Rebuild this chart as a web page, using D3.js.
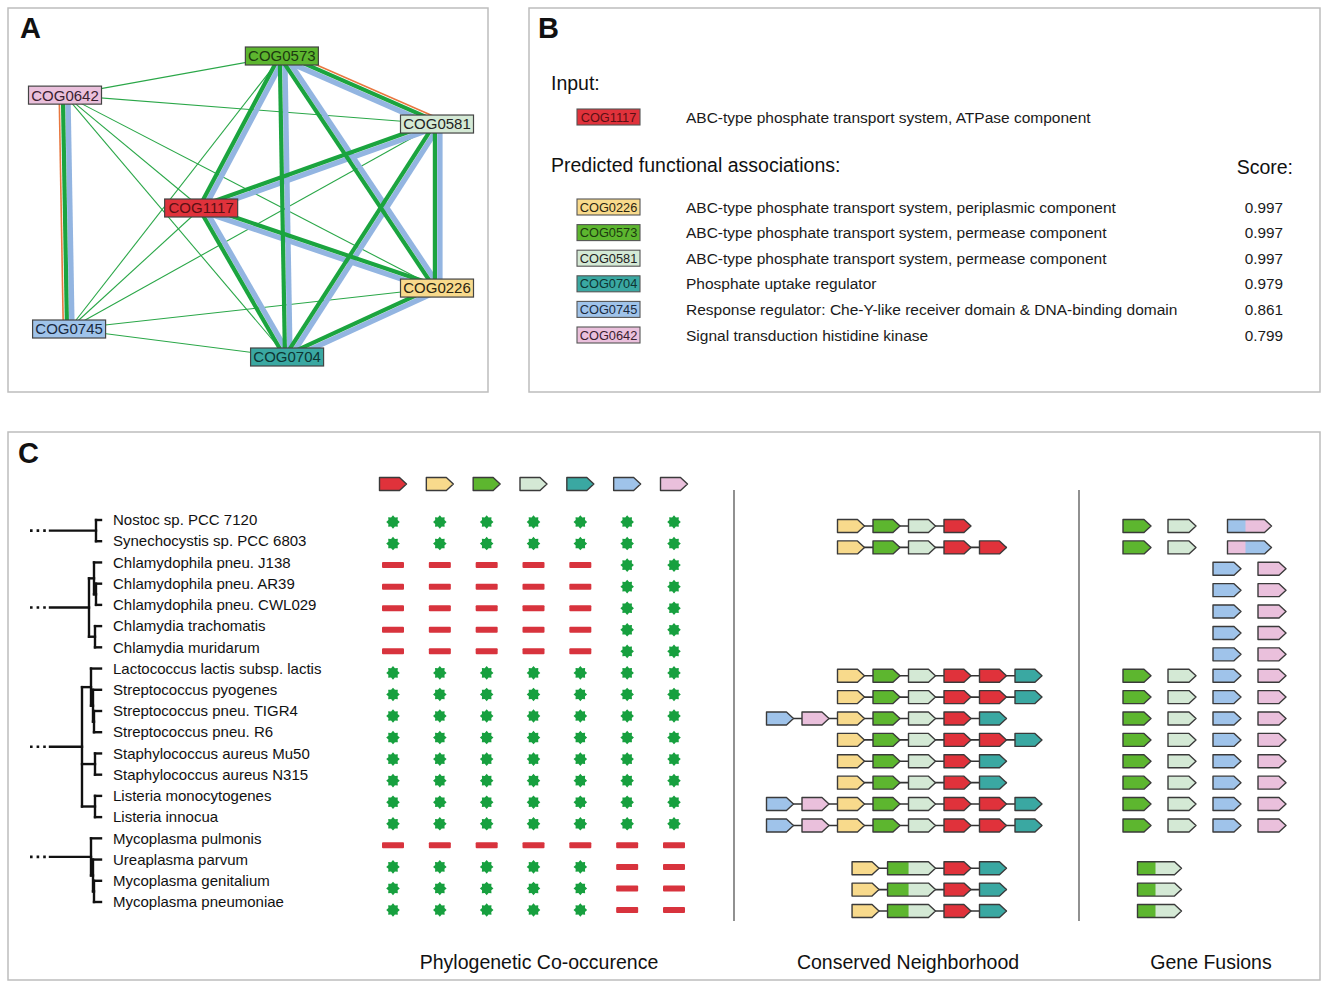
<!DOCTYPE html>
<html><head><meta charset="utf-8">
<script src="https://cdn.jsdelivr.net/npm/d3@7"></script>
<style>body{margin:0;background:#fff}</style>
</head><body>
<svg id="c" width="1321" height="981"></svg>
<script>
// ---------------- DATA ----------------
const cogs = ["COG1117","COG0226","COG0573","COG0581","COG0704","COG0745","COG0642"];
const cogCodes = ["R","Y","G","L","T","B","P"];
const cogColors = ["#e0323b","#f8da8c","#5db62f","#d4e9d5","#3aa8a2","#9fc3ea","#eac0dc"];
const cogTextColors = ["#5a1014","#2a2410","#1c3a10","#222","#0e3532","#1a2a40","#3a2030"];
const cogDesc = [
  "ABC-type phosphate transport system, ATPase component",
  "ABC-type phosphate transport system, periplasmic component",
  "ABC-type phosphate transport system, permease component",
  "ABC-type phosphate transport system, permease component",
  "Phosphate uptake regulator",
  "Response regulator: Che-Y-like receiver domain & DNA-binding domain",
  "Signal transduction histidine kinase"
];
const scores = [null, 0.997, 0.997, 0.997, 0.979, 0.861, 0.799];

// network layout (layout units 0..100)
const netNodes = ["COG0573","COG0642","COG0581","COG1117","COG0226","COG0745","COG0704"];
const netX = [58.3, 0, 100, 36.6, 100, 1.1, 59.7];
const netY = [0, 13, 22.6, 50.5, 77.1, 90.7, 100];
// edges: n = neighborhood (green), p = co-occurrence (blue), f = fusion (orange), w = weak neighborhood
const edges = [
  ["COG0642","COG0573","w"],["COG0642","COG0581","w"],["COG0642","COG1117","w"],["COG0642","COG0226","w"],["COG0642","COG0704","w"],
  ["COG0745","COG0573","w"],["COG0745","COG0581","w"],["COG0745","COG1117","w"],["COG0745","COG0226","w"],["COG0745","COG0704","w"],
  ["COG0573","COG0704","np"],["COG0573","COG0226","np"],["COG0581","COG0573","npf"],["COG0573","COG1117","np"],
  ["COG0581","COG1117","np"],["COG0226","COG1117","np"],["COG1117","COG0704","np"],["COG0581","COG0704","np"],
  ["COG0581","COG0226","np"],["COG0226","COG0704","np"],["COG0642","COG0745","npf"]
];

const species = ["Nostoc sp. PCC 7120","Synechocystis sp. PCC 6803","Chlamydophila pneu. J138","Chlamydophila pneu. AR39",
  "Chlamydophila pneu. CWL029","Chlamydia trachomatis","Chlamydia muridarum","Lactococcus lactis subsp. lactis",
  "Streptococcus pyogenes","Streptococcus pneu. TIGR4","Streptococcus pneu. R6","Staphylococcus aureus Mu50",
  "Staphylococcus aureus N315","Listeria monocytogenes","Listeria innocua","Mycoplasma pulmonis","Ureaplasma parvum",
  "Mycoplasma genitalium","Mycoplasma pneumoniae"];

// tree: leaves are species indices, internal nodes have height h
const treeGroups = [
  {h:5, c:[0,1]},
  {h:12, c:[{h:7, c:[2,{h:5, c:[3,4]}]}, {h:6, c:[5,6]}]},
  {h:19, c:[{h:10, c:[7,{h:8, c:[8,{h:7, c:[9,10]}]}]}, {h:6, c:[11,12]}, {h:6, c:[13,14]}]},
  {h:10, c:[15,{h:8, c:[16,{h:7, c:[17,18]}]}]}
];

// phylogenetic profiles: columns in cogs order
const presence = [
  "1111111","1111111",
  "0000011","0000011","0000011","0000011","0000011",
  "1111111","1111111","1111111","1111111","1111111","1111111","1111111","1111111",
  "0000000",
  "1111100","1111100","1111100"
];

// conserved neighborhood (two letters = fused gene)
const neighborhood = [
  ["Y","G","L","R"], ["Y","G","L","R","R"],
  [],[],[],[],[],
  ["Y","G","L","R","R","T"], ["Y","G","L","R","R","T"], ["B","P","Y","G","L","R","T"], ["Y","G","L","R","R","T"],
  ["Y","G","L","R","T"], ["Y","G","L","R","T"], ["B","P","Y","G","L","R","R","T"], ["B","P","Y","G","L","R","R","T"],
  [],
  ["Y","GL","R","T"], ["Y","GL","R","T"], ["Y","GL","R","T"]
];

// gene fusions
const fusions = [
  ["G","L","BP"], ["G","L","PB"],
  ["B","P"],["B","P"],["B","P"],["B","P"],["B","P"],
  ["G","L","B","P"],["G","L","B","P"],["G","L","B","P"],["G","L","B","P"],
  ["G","L","B","P"],["G","L","B","P"],["G","L","B","P"],["G","L","B","P"],
  [],
  ["GL"],["GL"],["GL"]
];
const fusionCols = ["G","L","B","P"];
const sectionTitles = ["Phylogenetic Co-occurence","Conserved Neighborhood","Gene Fusions"];

// ---------------- DRAWING ----------------
const F = "'Liberation Sans', Arial, Helvetica, sans-serif";
const svg = d3.select("#c");
const col = c => cogColors[cogCodes.indexOf(c)];
const cogIdx = c => cogs.indexOf(c);

// panel frames
[[8,8,480,384],[529,8,791,384],[8,432,1312,548]].forEach(p => {
  svg.append("rect").attr("x",p[0]).attr("y",p[1]).attr("width",p[2]).attr("height",p[3])
    .attr("fill","none").attr("stroke","#bdbdbd").attr("stroke-width",1.5);
});
[["A",20,38],["B",538,38],["C",18,463]].forEach(l => {
  svg.append("text").attr("x",l[1]).attr("y",l[2]).text(l[0])
    .attr("font-family",F).attr("font-weight","bold").attr("font-size",29).attr("fill","#111");
});

// ---- Panel A ----
const xA = d3.scaleLinear().domain([0,100]).range([65,437]);
const yA = d3.scaleLinear().domain([0,100]).range([56,357]);
const pos = c => { const i = netNodes.indexOf(c); return [xA(netX[i]), yA(netY[i])]; };
const gA = svg.append("g");
const layers = [
  {k:"w", off:0, w:1.1, c:"#2aa748"},
  {k:"p", off:-2.9, w:5.4, c:"#93b5e1"},
  {k:"n", off:2.1, w:4.2, c:"#1ba43f"},
  {k:"f", off:5.8, w:1.6, c:"#e8773f"}
];
layers.forEach(L => {
  edges.filter(e => e[2].includes(L.k)).forEach(e => {
    const [x1,y1] = pos(e[0]), [x2,y2] = pos(e[1]);
    const dx = x2-x1, dy = y2-y1, len = Math.hypot(dx,dy);
    const nx = -dy/len*L.off, ny = dx/len*L.off;
    gA.append("line").attr("x1",x1+nx).attr("y1",y1+ny).attr("x2",x2+nx).attr("y2",y2+ny)
      .attr("stroke",L.c).attr("stroke-width",L.w);
  });
});
netNodes.forEach(c => {
  const [x,y] = pos(c), i = cogIdx(c);
  gA.append("rect").attr("x",x-36.5).attr("y",y-9).attr("width",73).attr("height",18)
    .attr("fill",cogColors[i]).attr("stroke","#444").attr("stroke-width",1.2);
  gA.append("text").attr("x",x).attr("y",y).attr("dy","0.36em").attr("text-anchor","middle")
    .attr("font-family",F).attr("font-size",15).attr("fill",cogTextColors[i]).text(c);
});

// ---- Panel B ----
const gB = svg.append("g");
gB.append("text").attr("x",551).attr("y",90).text("Input:").attr("font-family",F).attr("font-size",19.5).attr("fill","#111");
gB.append("text").attr("x",551).attr("y",172).text("Predicted functional associations:").attr("font-family",F).attr("font-size",19.5).attr("fill","#111");
gB.append("text").attr("x",1293).attr("y",174).attr("text-anchor","end").text("Score:").attr("font-family",F).attr("font-size",19.5).attr("fill","#111");
const yB = d3.scalePoint().domain(cogs.slice(1)).range([207,335]);
const bRows = cogs.map((c,i) => ({c, i, y: i===0 ? 117 : yB(c)}));
bRows.forEach(r => {
  gB.append("rect").attr("x",577).attr("y",r.y-8).attr("width",63).attr("height",16)
    .attr("fill",cogColors[r.i]).attr("stroke","#555").attr("stroke-width",1.1);
  gB.append("text").attr("x",608.5).attr("y",r.y).attr("dy","0.36em").attr("text-anchor","middle")
    .attr("font-family",F).attr("font-size",12.8).attr("fill",cogTextColors[r.i]).text(r.c);
  gB.append("text").attr("x",686).attr("y",r.y).attr("dy","0.36em")
    .attr("font-family",F).attr("font-size",15.5).attr("fill","#1a1a1a").text(cogDesc[r.i]);
  if (scores[r.i] !== null)
    gB.append("text").attr("x",1283).attr("y",r.y).attr("dy","0.36em").attr("text-anchor","end")
      .attr("font-family",F).attr("font-size",15.3).attr("fill","#1a1a1a").text(d3.format(".3f")(scores[r.i]));
});

// ---- Panel C ----
const gC = svg.append("g");
const yText = d3.scalePoint().domain(d3.range(species.length)).range([520,902]);
const yMat = d3.scalePoint().domain(d3.range(species.length)).range([522,910]);
const yGene = d3.scalePoint().domain(d3.range(species.length)).range([526,911]);

species.forEach((s,i) => {
  gC.append("text").attr("x",113).attr("y",yText(i)).attr("dy","0.35em")
    .attr("font-family",F).attr("font-size",15).attr("fill","#111").text(s);
});

// tree
const xT = d3.scaleLinear().domain([0,60]).range([101,41]);
const tLine = (x1,y1,x2,y2,w) => gC.append("line").attr("x1",x1).attr("y1",y1).attr("x2",x2).attr("y2",y2)
  .attr("stroke","#111").attr("stroke-width",w||2.4).attr("stroke-linecap","square");
function drawNode(n){
  if (typeof n === "number") return {x: xT(0), y: yText(n)};
  const x = xT(n.h);
  const kids = n.c.map(drawNode);
  kids.forEach(k => tLine(x,k.y,k.x,k.y));
  tLine(x,kids[0].y,x,kids[kids.length-1].y);
  return {x, y:(kids[0].y+kids[kids.length-1].y)/2};
}
treeGroups.forEach(g => {
  const r = drawNode(g);
  tLine(xT(51), r.y, r.x, r.y);
  gC.append("line").attr("x1",xT(71)).attr("y1",r.y).attr("x2",xT(51)-2).attr("y2",r.y)
    .attr("stroke","#111").attr("stroke-width",2.6).attr("stroke-dasharray","2.6,4");
});

// gene arrow helper
const GH = 13, TIP = 7;
function arrowPath(x0,w,y){
  return `M${x0},${y-GH/2}L${x0+w-TIP},${y-GH/2}L${x0+w},${y}L${x0+w-TIP},${y+GH/2}L${x0},${y+GH/2}Z`;
}
let clipN = 0;
function gene(g, token, x0, w, y, split){
  if (token.length === 1) {
    g.append("path").attr("d",arrowPath(x0,w,y)).attr("fill",col(token))
      .attr("stroke","#3a3a3a").attr("stroke-width",1.4).attr("stroke-linejoin","round");
  } else {
    const id = "cp"+(clipN++);
    svg.append("clipPath").attr("id",id).append("path").attr("d",arrowPath(x0,w,y));
    g.append("path").attr("d",arrowPath(x0,w,y)).attr("fill",col(token[1]));
    g.append("rect").attr("x",x0).attr("y",y-GH/2).attr("width",split).attr("height",GH)
      .attr("fill",col(token[0])).attr("clip-path",`url(#${id})`);
    g.append("path").attr("d",arrowPath(x0,w,y)).attr("fill","none")
      .attr("stroke","#3a3a3a").attr("stroke-width",1.4).attr("stroke-linejoin","round");
  }
}

// phylogenetic profile
const xM = d3.scalePoint().domain(cogs).range([393,674]);
cogs.forEach((c,i) => gene(gC, cogCodes[i], xM(c)-13.5, 27, 484));
const starPts = d3.range(16).map(k => {
  const a = k*Math.PI/8, r = k%2===0 ? 6.8 : 5.0;
  return [Math.cos(a)*r, Math.sin(a)*r];
});
const starPath = "M" + starPts.map(p => p.join(",")).join("L") + "Z";
presence.forEach((row,i) => {
  cogs.forEach((c,j) => {
    const x = xM(c), y = yMat(i);
    if (row[j] === "1")
      gC.append("path").attr("d",starPath).attr("transform",`translate(${x},${y})`).attr("fill","#17a03f");
    else
      gC.append("rect").attr("x",x-11).attr("y",y-3).attr("width",22).attr("height",6).attr("rx",1)
        .attr("fill","#d8333d");
  });
});

// separators
[734,1079].forEach(x => gC.append("line").attr("x1",x).attr("y1",490).attr("x2",x).attr("y2",921)
  .attr("stroke","#555").attr("stroke-width",1.3));

// conserved neighborhood
const xN = d3.scaleLinear().domain([0,1]).range([944,979.5]);
const GW = 0.76, GAP = 0.24, FW = 1.35;
neighborhood.forEach((row,i) => {
  if (!row.length) return;
  const y = yGene(i);
  const a = row.indexOf("R");
  const lens = row.map(t => t.length === 1 ? GW : FW);
  const starts = row.map(() => 0);
  let p = 0;
  for (let k=a; k<row.length; k++){ starts[k] = p; p += lens[k] + GAP; }
  p = 0;
  for (let k=a-1; k>=0; k--){ p -= GAP + lens[k]; starts[k] = p; }
  const last = row.length-1;
  gC.append("line").attr("x1",xN(starts[0])).attr("x2",xN(starts[last]+lens[last])).attr("y1",y).attr("y2",y)
    .attr("stroke","#333").attr("stroke-width",1.6);
  row.forEach((t,k) => {
    const x0 = xN(starts[k]), w = xN(starts[k]+lens[k]) - x0;
    gene(gC, t, x0, w, y, 21);
  });
});

// gene fusions
const xF = d3.scalePoint().domain(fusionCols).range([1137,1272]);
fusions.forEach((row,i) => {
  const y = yGene(i);
  row.forEach(t => {
    if (t.length === 1) gene(gC, t, xF(t)-14, 28, y);
    else {
      const xs = t.split("").map(ch => xF(ch));
      const cx = (d3.min(xs)+d3.max(xs))/2;
      gene(gC, t, cx-22, 44, y, 18);
    }
  });
});

// titles
[[539,sectionTitles[0]],[908,sectionTitles[1]],[1211,sectionTitles[2]]].forEach(t => {
  gC.append("text").attr("x",t[0]).attr("y",969).attr("text-anchor","middle")
    .attr("font-family",F).attr("font-size",19.5).attr("fill","#111").text(t[1]);
});
</script>
</body></html>
